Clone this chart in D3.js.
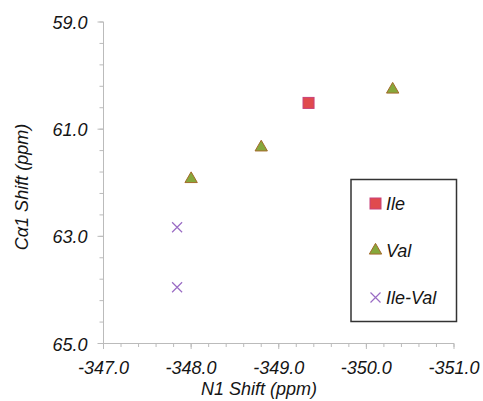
<!DOCTYPE html>
<html>
<head>
<meta charset="utf-8">
<script src="https://cdn.jsdelivr.net/npm/d3@7"></script>
<style>
  body { margin: 0; background: #fff; }
  text { font-family: "Liberation Sans", Arial, sans-serif; font-style: italic; fill: #151515; }
</style>
</head>
<body>
<svg width="483" height="401"></svg>
<script>
// data
var ileX = [-349.34], ileY = [60.51];
var valX = [-350.30, -348.80, -348.00], valY = [60.26, 61.34, 61.93];
var ivX = [-347.84, -347.84], ivY = [62.83, 63.95];
var xTicks = [-347, -348, -349, -350, -351];
var yTicks = [59, 61, 63, 65];
var legendNames = ["Ile", "Val", "Ile-Val"];

var svg = d3.select("svg");

var x = d3.scaleLinear().domain([-347, -351]).range([103.5, 454]);
var y = d3.scaleLinear().domain([59, 65]).range([22, 343.5]);

var axisColor = "#bbb";
var fmt = d => d.toFixed(1); // plain hyphen, like the original

// minor ticks
var xMinor = d3.range(0, 21).map(i => -347 - i * 0.2);
var yMinor = d3.range(0, 16).map(i => 59 + i * 0.4);

var gx = svg.append("g").attr("transform", "translate(0," + y(65) + ")");
gx.append("line").attr("x1", x(-347)).attr("x2", x(-351)).attr("stroke", axisColor);
gx.selectAll(".mn").data(xMinor).enter().append("line")
    .attr("x1", d => x(d)).attr("x2", d => x(d)).attr("y1", 0).attr("y2", 3.5)
    .attr("stroke", axisColor);
gx.selectAll(".mj").data(xTicks).enter().append("line")
    .attr("x1", d => x(d)).attr("x2", d => x(d)).attr("y1", 0).attr("y2", 5.5)
    .attr("stroke", axisColor);
gx.selectAll("text").data(xTicks).enter().append("text")
    .attr("x", d => x(d)).attr("y", 30)
    .attr("text-anchor", "middle").attr("font-size", 18)
    .text(fmt);

var gy = svg.append("g").attr("transform", "translate(" + x(-347) + ",0)");
gy.append("line").attr("y1", y(59)).attr("y2", y(65)).attr("stroke", axisColor);
gy.selectAll(".mn").data(yMinor).enter().append("line")
    .attr("y1", d => y(d)).attr("y2", d => y(d)).attr("x1", 0).attr("x2", -4)
    .attr("stroke", axisColor);
gy.selectAll(".mj").data(yTicks).enter().append("line")
    .attr("y1", d => y(d)).attr("y2", d => y(d)).attr("x1", 0).attr("x2", -6)
    .attr("stroke", axisColor);
gy.selectAll("text").data(yTicks).enter().append("text")
    .attr("x", -16).attr("y", d => y(d) + 7)
    .attr("text-anchor", "end").attr("font-size", 18)
    .text(fmt);

// axis titles
svg.append("text").attr("x", 259).attr("y", 395).attr("text-anchor", "middle")
    .attr("font-size", 18).text("N1 Shift (ppm)");
svg.append("text").attr("transform", "translate(28,187) rotate(-90)")
    .attr("text-anchor", "middle").attr("font-size", 18).text("Cα1 Shift (ppm)");

// markers
function square(g, cx, cy) {
  g.append("rect").attr("x", cx - 5.5).attr("y", cy - 5.5).attr("width", 11).attr("height", 11)
      .attr("fill", "#e04a4e").attr("stroke", "#c8407a").attr("stroke-width", 1);
}
function tri(g, cx, cy) {
  g.append("path").attr("d", d3.symbol(d3.symbolTriangle, 66)())
      .attr("transform", "translate(" + cx + "," + cy + ")")
      .attr("fill", "#86a83c").attr("stroke", "#a46a2a").attr("stroke-width", 1);
}
function cross(g, cx, cy) {
  g.append("path").attr("d", "M-5,-5L5,5M-5,5L5,-5")
      .attr("transform", "translate(" + cx + "," + cy + ")")
      .attr("stroke", "#9a6cc4").attr("stroke-width", 1.2).attr("fill", "none");
}

var pts = svg.append("g");
ileX.forEach((v, i) => square(pts, x(v), y(ileY[i])));
valX.forEach((v, i) => tri(pts, x(v), y(valY[i])));
ivX.forEach((v, i) => cross(pts, x(v), y(ivY[i])));

// legend
var lg = svg.append("g");
lg.append("rect").attr("x", 351).attr("y", 179.5).attr("width", 105.5).attr("height", 142)
    .attr("fill", "#fff").attr("stroke", "#333").attr("stroke-width", 1.5);
var markers = [square, tri, cross];
legendNames.forEach((n, i) => {
  var cy = 203.5 + i * 47;
  markers[i](lg, 375.5, cy);
  lg.append("text").attr("x", 386).attr("y", cy + 6.5).attr("font-size", 18).text(n);
});
</script>
</body>
</html>
